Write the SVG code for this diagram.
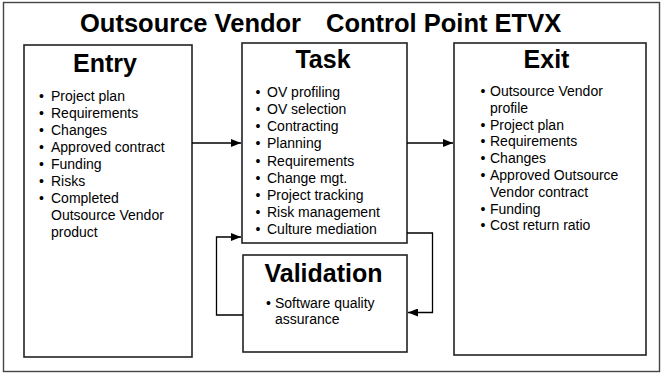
<svg xmlns="http://www.w3.org/2000/svg" width="663" height="373" viewBox="0 0 663 373">
<defs>
<style>
text{font-family:"Liberation Sans",Arial,sans-serif;fill:#000}
.title{font-size:25.5px;font-weight:bold}
.head{font-size:25px;font-weight:bold;text-anchor:middle}
.item{font-size:14px}
.box{fill:#fff;stroke:#222;stroke-width:1.6}
.frame{fill:#fff;stroke:#444;stroke-width:1.4}
.conn{fill:none;stroke:#000;stroke-width:1.3}
</style>
<marker id="ah" viewBox="0 0 10 8" refX="10" refY="4" markerWidth="10" markerHeight="8" markerUnits="userSpaceOnUse" orient="auto">
<path d="M0,0 L10,4 L0,8 Z" fill="#000"/>
</marker>
</defs>
<rect class="frame" x="3.5" y="2.5" width="656" height="369"/>
<g id="title">
<text class="title" x="80" y="31.5">Outsource Vendor</text>
<text class="title" x="326" y="31.5">Control Point ETVX</text>
</g>
<g id="entry">
<rect class="box" x="24" y="45" width="168" height="312"/>
<text class="head" x="105" y="71.5">Entry</text>
<g class="item">
<text class="item" x="39" y="101">•</text><text class="item" x="51" y="101">Project plan</text>
<text class="item" x="39" y="118">•</text><text class="item" x="51" y="118">Requirements</text>
<text class="item" x="39" y="135">•</text><text class="item" x="51" y="135">Changes</text>
<text class="item" x="39" y="152">•</text><text class="item" x="51" y="152">Approved contract</text>
<text class="item" x="39" y="169">•</text><text class="item" x="51" y="169">Funding</text>
<text class="item" x="39" y="186">•</text><text class="item" x="51" y="186">Risks</text>
<text class="item" x="39" y="203">•</text><text class="item" x="51" y="203">Completed</text>
<text class="item" x="51" y="220">Outsource Vendor</text>
<text class="item" x="51" y="237">product</text>
</g>
</g>
<g id="task">
<rect class="box" x="242" y="43" width="165" height="200"/>
<text class="head" x="323" y="67.5">Task</text>
<text class="item" x="255.5" y="96.7">•</text><text class="item" x="267" y="96.7">OV profiling</text>
<text class="item" x="255.5" y="113.9">•</text><text class="item" x="267" y="113.9">OV selection</text>
<text class="item" x="255.5" y="131.1">•</text><text class="item" x="267" y="131.1">Contracting</text>
<text class="item" x="255.5" y="148.3">•</text><text class="item" x="267" y="148.3">Planning</text>
<text class="item" x="255.5" y="165.5">•</text><text class="item" x="267" y="165.5">Requirements</text>
<text class="item" x="255.5" y="182.7">•</text><text class="item" x="267" y="182.7">Change mgt.</text>
<text class="item" x="255.5" y="199.9">•</text><text class="item" x="267" y="199.9">Project tracking</text>
<text class="item" x="255.5" y="217.1">•</text><text class="item" x="267" y="217.1">Risk management</text>
<text class="item" x="255.5" y="234.3">•</text><text class="item" x="267" y="234.3">Culture mediation</text>
</g>
<g id="validation">
<rect class="box" x="243" y="255" width="164" height="97"/>
<text class="head" x="323.5" y="281.5">Validation</text>
<text class="item" x="266" y="307.5">•</text><text class="item" x="275" y="307.5">Software quality</text>
<text class="item" x="275" y="324">assurance</text>
</g>
<g id="exit">
<rect class="box" x="454" y="43" width="192" height="312"/>
<text class="head" x="546.5" y="67.5">Exit</text>
<text class="item" x="480.5" y="96">•</text><text class="item" x="490" y="96">Outsource Vendor</text>
<text class="item" x="490" y="112.8">profile</text>
<text class="item" x="480.5" y="129.6">•</text><text class="item" x="490" y="129.6">Project plan</text>
<text class="item" x="480.5" y="146.4">•</text><text class="item" x="490" y="146.4">Requirements</text>
<text class="item" x="480.5" y="163.2">•</text><text class="item" x="490" y="163.2">Changes</text>
<text class="item" x="480.5" y="180">•</text><text class="item" x="490" y="180">Approved Outsource</text>
<text class="item" x="490" y="196.8">Vendor contract</text>
<text class="item" x="480.5" y="213.6">•</text><text class="item" x="490" y="213.6">Funding</text>
<text class="item" x="480.5" y="230.4">•</text><text class="item" x="490" y="230.4">Cost return ratio</text>
</g>
<g id="connectors">
<path class="conn" d="M192,143 H241" marker-end="url(#ah)"/>
<path class="conn" d="M407,143 H453" marker-end="url(#ah)"/>
<path class="conn" d="M243,315 H216.5 V237 H241" marker-end="url(#ah)"/>
<path class="conn" d="M407,233 H432.5 V312.5 H408" marker-end="url(#ah)"/>
</g>
</svg>
